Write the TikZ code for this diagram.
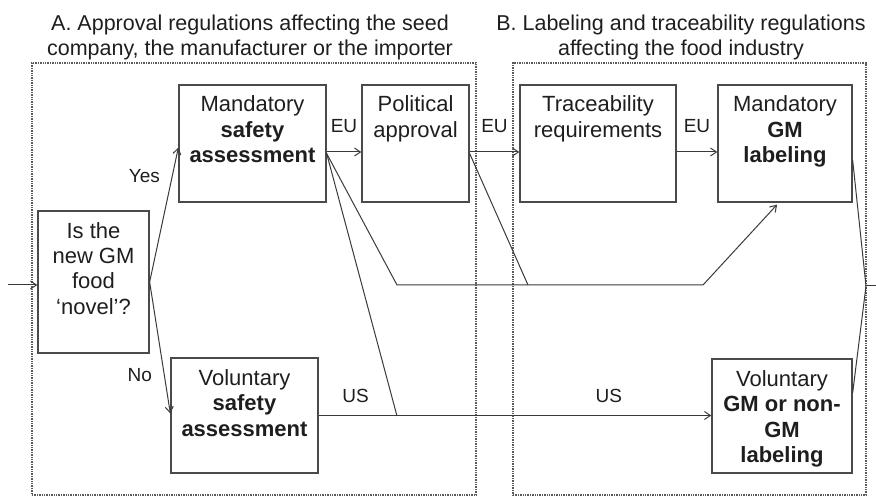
\documentclass[tikz,border=0pt]{standalone}
\usepackage{fontspec}
\setmainfont{Liberation Sans}
\usetikzlibrary{arrows.meta}
\definecolor{boxgray}{HTML}{4A4A4A}
\definecolor{dotgray}{HTML}{5A5A5A}
\definecolor{linegray}{HTML}{3A3A3A}
\definecolor{txt}{HTML}{1E1E1E}
\newcommand{\boxtxt}[3]{\parbox[c][#2][t]{#1}{\centering\rule{0pt}{27pt}#3}}
\tikzset{
  gbox/.style={draw=boxgray, line width=1.3pt, inner sep=0pt, text=txt,
    font=\fontsize{22}{25.5}\selectfont},
  region/.style={draw=dotgray, line width=1.4pt, densely dotted, inner sep=0pt},
  conn/.style={draw=linegray, line width=1pt},
  arr/.style={conn, -{Straight Barb[length=6pt,width=8pt]}},
  lab/.style={font=\fontsize{19}{22}\selectfont, inner sep=0pt, text=txt},
  ttl/.style={font=\fontsize{21.5}{25}\selectfont, align=center, text=txt, inner sep=0pt, anchor=north}
}
\begin{document}
\begin{tikzpicture}[x=1pt, y=-1pt]
\useasboundingbox (0,0) rectangle (876,497);
% titles
\node[ttl] (ta) at (250,0) {\rule{0pt}{30pt}A. Approval regulations affecting the seed\\company, the manufacturer or the importer};
\node[ttl] (tb) at (681,0) {\rule{0pt}{30pt}B. Labeling and traceability regulations\\affecting the food industry};
% regions
\node[region, minimum width=444pt, minimum height=432pt] (ra) at (254,279) {};
\node[region, minimum width=353pt, minimum height=432pt] (rb) at (689.5,279) {};
% boxes
\node[gbox] (isq) at (93.5,282) {\boxtxt{111pt}{142pt}{\rule{0pt}{20pt}Is the\\ new GM\\ food\\ ‘novel’?}};
\node[gbox] (msa) at (252.5,143.5) {\boxtxt{147pt}{117pt}{Mandatory\\ \textbf{safety}\\ \textbf{assessment}}};
\node[gbox] (pol) at (415.5,143.5) {\boxtxt{107pt}{117pt}{Political\\ approval}};
\node[gbox] (tra) at (598,143.5) {\boxtxt{156pt}{117pt}{Traceability\\ requirements}};
\node[gbox] (mgl) at (785,143.5) {\boxtxt{134pt}{117pt}{Mandatory\\ \textbf{GM}\\ \textbf{labeling}}};
\node[gbox] (vsa) at (244.5,415.5) {\boxtxt{147pt}{115pt}{Voluntary\\ \textbf{safety}\\ \textbf{assessment}}};
\node[gbox] (vgl) at (782,416) {\boxtxt{140pt}{114pt}{Voluntary\\ \textbf{GM or non-}\\ \textbf{GM}\\ \textbf{labeling}}};
% coordinates
\coordinate (in) at (8,285);
\coordinate (msaO) at ([yshift=-10pt]msa.east);
\coordinate (polO) at ([yshift=-10pt]pol.east);
\coordinate (j1) at (397,285);
\coordinate (j2) at (703,285);
\coordinate (j3) at (528,285);
\coordinate (j4) at (397,416);
\coordinate (out) at (866,286);
\coordinate (outE) at (876,286);
% connectors
\draw[arr] (in) -- (in -| isq.west);
\draw[arr] (isq.east) -- node[lab, pos=0.79, left=12pt] (lyes) {Yes} ([yshift=-4pt]msa.west);
\draw[arr] (isq.east) -- node[lab, pos=0.71, left=12pt] (lno) {No} ([yshift=2pt]vsa.west);
\draw[arr] ([yshift=-8.5pt]msa.east) -- node[lab, above=19pt] (leu1) {EU} ([yshift=-8.5pt]pol.west);
\draw[arr] ([yshift=-8.5pt]pol.east) -- node[lab, above=19pt] (leu2) {EU} ([yshift=-8.5pt]tra.west);
\draw[arr] ([yshift=-8.5pt]tra.east) -- node[lab, above=19pt] (leu3) {EU} ([yshift=-8.5pt]mgl.west);
\draw[arr] (msaO) -- (j1) -- (j2) -- ([xshift=-8pt,yshift=-2pt]mgl.south);
\draw[conn] (msaO) -- (j4);
\draw[conn] (polO) -- (j3);
\draw[arr] (vsa.east) -- node[lab, pos=0.094, above=12pt] (lus1) {US} node[lab, pos=0.739, above=12pt] (lus2) {US} (vsa.east -| vgl.west);
\draw[conn] ([yshift=-16.5pt]mgl.east) -- (out);
\draw[conn] ([yshift=23pt]vgl.east) -- (out);
\draw[conn] (out) -- (outE);
\end{tikzpicture}
\end{document}
